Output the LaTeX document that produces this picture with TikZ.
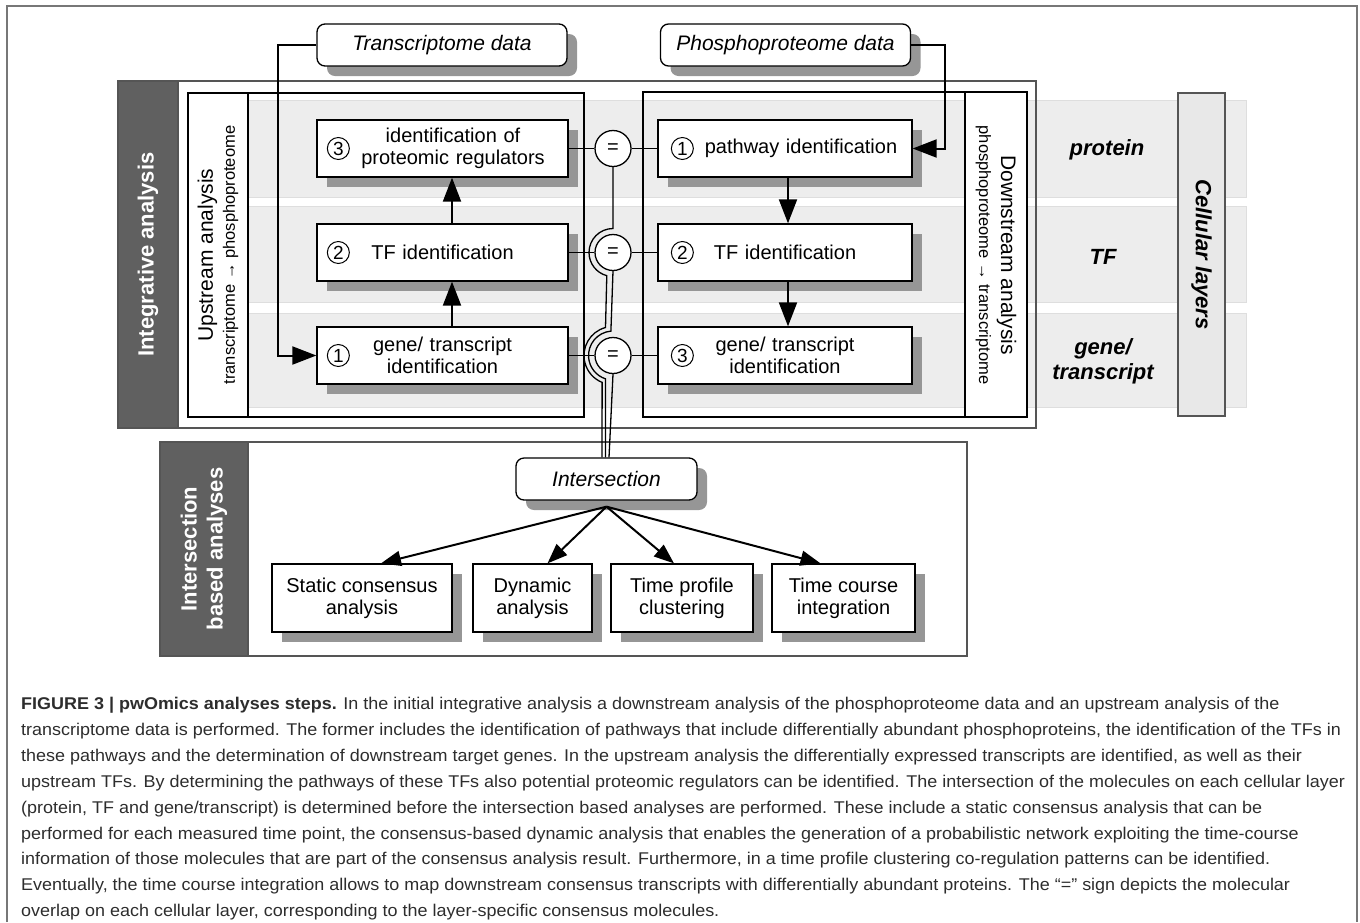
\documentclass[tikz,border=0pt]{standalone}
\usepackage{fontspec}
\setmainfont{Liberation Sans}
\newfontfamily\capfamily[FakeStretch=1.057]{Liberation Sans}
\usetikzlibrary{arrows.meta,shadows}

\definecolor{darkbar}{RGB}{96,96,96}
\definecolor{bandgray}{RGB}{237,237,237}
\definecolor{bandline}{RGB}{222,222,222}
\definecolor{shadowgray}{RGB}{150,150,150}
\definecolor{framegray}{RGB}{85,85,85}
\definecolor{captext}{RGB}{45,45,45}
\definecolor{layerfill}{RGB}{232,232,232}

\newcommand{\stepfont}{\fontsize{20}{22}\selectfont}
\newcommand{\datafont}{\fontsize{21}{24}\selectfont\itshape}
\newcommand{\sidefont}{\fontsize{22}{26}\selectfont\bfseries}
\newcommand{\layerfont}{\fontsize{22}{25}\selectfont\bfseries\itshape}
\newcommand{\lanefont}{\fontsize{16.5}{22}\selectfont}
\newcommand{\capfont}{\capfamily\fontsize{17}{25.9}\selectfont}
\newcommand{\steptext}[2][0pt]{\hbox to \hsize{\hss\hspace*{#1}\parbox[c]{196pt}{\centering #2}\hss}}

\begin{document}
\begin{tikzpicture}[
    x=1pt, y=-1pt,
    boxshadow/.style={drop shadow={shadow xshift=10pt, shadow yshift=-10pt, fill=shadowgray, opacity=1}},
    stepbox/.style={draw, fill=white, line width=1.3pt, minimum height=57pt, inner xsep=11pt, inner ysep=3pt, text width=229pt, font=\stepfont, boxshadow},
    rstepbox/.style={stepbox, text width=232pt},
    numcircle/.style={circle, draw, line width=1pt, minimum size=22pt, inner sep=0pt, font=\fontsize{19}{19}\selectfont},
    databox/.style={draw, fill=white, rounded corners=8pt, line width=1.3pt, minimum width=250pt, minimum height=42pt, font=\datafont, boxshadow},
    endbox/.style={draw, fill=white, line width=1.3pt, minimum height=68pt, inner sep=2pt, align=center, font=\stepfont, boxshadow},
    eqnode/.style={circle, draw, fill=white, line width=1.3pt, minimum size=36pt, inner sep=0pt, font=\stepfont},
    band/.style={fill=bandgray, draw=bandline, line width=0.8pt},
    panel/.style={draw=framegray, line width=1.3pt},
    lanebox/.style={draw=black, line width=2.6pt},
    sidelabel/.style={rotate=90, text=white, font=\sidefont, align=center},
    layerlabel/.style={font=\layerfont, align=center},
    link/.style={draw, line width=1.5pt},
    wire/.style={draw, line width=1.3pt},
    line/.style={draw, line width=2pt, -{Triangle[length=24pt, width=18pt]}},
    fan/.style={draw, line width=2pt, -{Triangle[length=20pt, width=15pt]}}
]
\useasboundingbox (0,0) rectangle (1360,922);
\draw[draw=framegray!80, line width=1.5pt] (7,922) -- (7,6) -- (1357,6) -- (1357,922);

% cellular layer bands
\draw[band] (248,100) rectangle (1246,197);
\draw[band] (248,206) rectangle (1246,302);
\draw[band] (248,313) rectangle (1246,407);

% integrative analysis
\draw[panel] (118,81) rectangle (1036,428);
\filldraw[panel, fill=darkbar] (118,81) rectangle (178,428);
\node[sidelabel] (intlabel) at (148,254.5) {Integrative analysis};

\draw[lanebox] (188,93) rectangle (584,417);
\filldraw[lanebox, fill=white] (188,93) rectangle (248,417);
\node[rotate=90, align=center, font=\lanefont] (uplabel) at (218,255) {{\fontsize{21}{22}\selectfont Upstream analysis}\\transcriptome → phosphoproteome};
\draw[lanebox] (643,92) rectangle (1027,417);
\filldraw[lanebox, fill=white] (965,92) rectangle (1027,417);
\node[rotate=-90, align=center, font=\lanefont] (downlabel) at (996,255) {{\fontsize{21}{22}\selectfont Downstream analysis}\\phosphoproteome → transcriptome};

\node[databox] (transdata) at (442,45) {Transcriptome data};
\node[databox] (phosdata) at (785.5,45) {Phosphoproteome data};

\node[stepbox] (upreg) at (442.5,148.5) {\steptext[21pt]{identification of\\proteomic regulators}};
\node[stepbox] (uptf) at (442.5,252.5) {\steptext{TF identification}};
\node[stepbox] (upgene) at (442.5,355.5) {\steptext{gene/ transcript\\identification}};
\node[rstepbox] (downpath) at (785,148.5) {\steptext[32pt]{pathway identification}};
\node[rstepbox] (downtf) at (785,252.5) {\steptext{TF identification}};
\node[rstepbox] (downgene) at (785,355.5) {\steptext{gene/ transcript\\identification}};

\node[numcircle] (upregnum) at ([xshift=22pt]upreg.west) {3};
\node[numcircle] (uptfnum) at ([xshift=22pt]uptf.west) {2};
\node[numcircle] (upgenenum) at ([xshift=22pt]upgene.west) {1};
\node[numcircle] (downpathnum) at ([xshift=25pt]downpath.west) {1};
\node[numcircle] (downtfnum) at ([xshift=25pt]downtf.west) {2};
\node[numcircle] (downgenenum) at ([xshift=25pt]downgene.west) {3};

\node[eqnode] (eqprot) at (613,148.5) {=};
\node[eqnode] (eqtf) at (613,252.5) {=};
\node[eqnode] (eqgene) at (613,355.5) {=};

\coordinate (tbend) at (278,45);
\coordinate (pbend) at (945,45);
\draw[line] (transdata.west) -- (tbend) |- (upgene.west);
\draw[line] (phosdata.east) -- (pbend) |- (downpath.east);
\draw[line] ([xshift=9.5pt]upgene.north) -- ([xshift=9.5pt]uptf.south);
\draw[line] ([xshift=9.5pt]uptf.north) -- ([xshift=9.5pt]upreg.south);
\draw[line] ([xshift=3pt]downpath.south) -- ([xshift=3pt]downtf.north);
\draw[line] ([xshift=3pt]downtf.south) -- ([xshift=3pt]downgene.north);

\draw[link] (upreg.east) -- (eqprot.west);
\draw[link] (eqprot.east) -- (downpath.west);
\draw[link] (uptf.east) -- (eqtf.west);
\draw[link] (eqtf.east) -- (downtf.west);
\draw[link] (upgene.east) -- (eqgene.west);
\draw[link] (eqgene.east) -- (downgene.west);

% intersection based analyses
\draw[panel] (160,442) rectangle (967,656);
\filldraw[panel, fill=darkbar] (160,442) rectangle (248,656);
\node[sidelabel] (seclabel) at (204,549) {Intersection\\based analyses};

\node[databox, minimum width=181pt] (inter) at (606.5,479) {Intersection};
\coordinate (fork) at ([yshift=-6pt]inter.south);

\draw[wire] (eqprot.south) -- (613,228.5) arc[start angle=270, end angle=105, radius=24] -- (605.5,327.5) arc[start angle=255, end angle=112, radius=29] -- ([xshift=-4.5pt]inter.north);
\draw[wire] (eqtf.south) -- (610.9,331.1) arc[start angle=265, end angle=108, radius=24.5] -- ([xshift=-1pt]inter.north);
\draw[wire] (eqgene.south) -- ([xshift=2.5pt]inter.north);

\node[endbox, minimum width=180pt] (static) at (362,598) {Static consensus\\analysis};
\node[endbox, minimum width=119pt] (dynamic) at (532.5,598) {Dynamic\\analysis};
\node[endbox, minimum width=142pt] (profile) at (682,598) {Time profile\\clustering};
\node[endbox, minimum width=143pt] (course) at (843.5,598) {Time course\\integration};
\draw[fan] (fork) -- ([xshift=19pt]static.north);
\draw[fan] (fork) -- ([xshift=15pt]dynamic.north);
\draw[fan] (fork) -- ([xshift=-8pt]profile.north);
\draw[fan] (fork) -- ([xshift=-23pt]course.north);

% cellular layers
\node[layerlabel] (protein) at (1107,150) {protein};
\node[layerlabel] (tf) at (1103,257) {TF};
\node[layerlabel] (gene) at (1103,361) {gene/\\transcript};
\filldraw[fill=layerfill, draw=framegray, line width=1.5pt] (1178,93) rectangle (1225,416);
\node[layerlabel, rotate=-90] (layers) at (1201.5,254.5) {Cellular layers};

\node[anchor=north west, inner sep=0pt, align=left, font=\capfont, text=captext] (caption) at (21,697) {\textbf{FIGURE 3 | pwOmics analyses steps.} In the initial integrative analysis a downstream analysis of the phosphoproteome data and an upstream analysis of the\\
transcriptome data is performed. The former includes the identification of pathways that include differentially abundant phosphoproteins, the identification of the TFs in\\
these pathways and the determination of downstream target genes. In the upstream analysis the differentially expressed transcripts are identified, as well as their\\
upstream TFs. By determining the pathways of these TFs also potential proteomic regulators can be identified. The intersection of the molecules on each cellular layer\\
(protein, TF and gene/transcript) is determined before the intersection based analyses are performed. These include a static consensus analysis that can be\\
performed for each measured time point, the consensus-based dynamic analysis that enables the generation of a probabilistic network exploiting the time-course\\
information of those molecules that are part of the consensus analysis result. Furthermore, in a time profile clustering co-regulation patterns can be identified.\\
Eventually, the time course integration allows to map downstream consensus transcripts with differentially abundant proteins. The “=” sign depicts the molecular\\
overlap on each cellular layer, corresponding to the layer-specific consensus molecules.};
\end{tikzpicture}
\end{document}
